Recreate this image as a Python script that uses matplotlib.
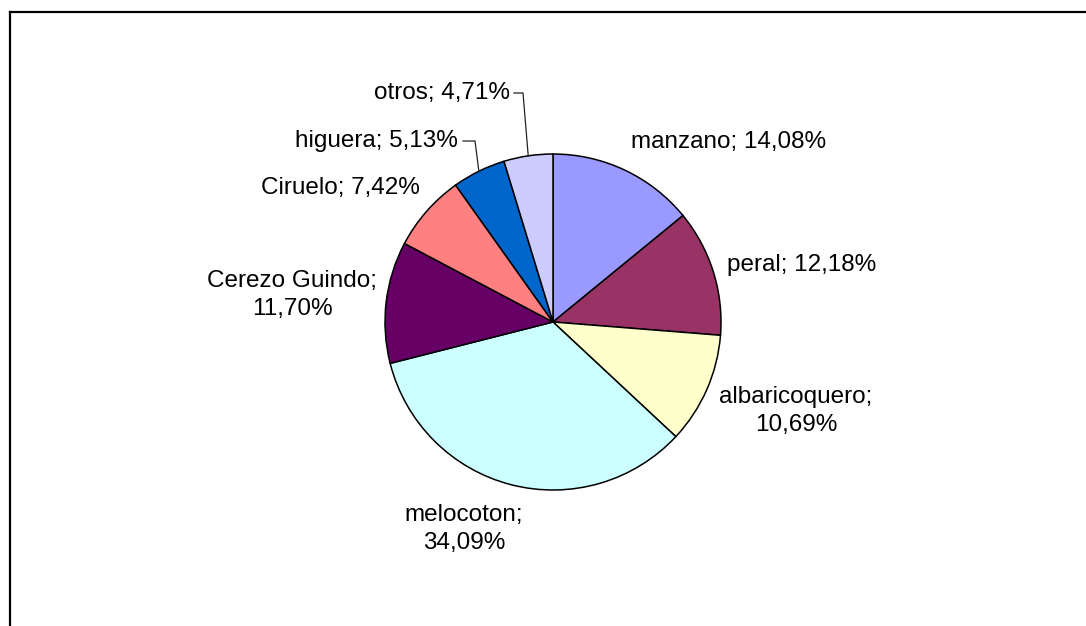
import numpy as np
import matplotlib
matplotlib.use('Agg')
from matplotlib import pyplot as plt

# Data
categories = ['manzano', 'peral', 'albaricoquero', 'melocoton',
              'Cerezo Guindo', 'Ciruelo', 'higuera', 'otros']
values = [14.08, 12.18, 10.69, 34.09, 11.70, 7.42, 5.13, 4.71]
colors = ['#9999FF', '#993366', '#FFFFCC', '#CCFFFF',
          '#660066', '#FF8080', '#0066CC', '#CCCCFF']
# label text breaks onto 2 lines for some slices
two_lines = [False, False, True, True, True, False, False, False]

# Layout (pixel coords, y measured from top)
W, H = 1086, 626
cx, cy, r = 553, 322, 168
label_pos = [(729, 142, 'center'), (802, 265, 'center'), (796, 411, 'center'),
             (464, 529, 'center'), (292, 295, 'center'), (340, 188, 'center'),
             (458, 141, 'right'), (510, 93, 'right')]
leaders = {6: (463, 475), 7: (514, 523)}  # horizontal start/end of leader line

plt.rcParams['font.family'] = ['Liberation Sans', 'DejaVu Sans']

fig = plt.figure(figsize=(W / 100, H / 100), dpi=100)
ax = fig.add_axes([0, 0, 1, 1])

wedges, _ = ax.pie(values, colors=colors, startangle=90, counterclock=False,
                   center=(cx, H - cy), radius=r,
                   wedgeprops=dict(edgecolor='black', linewidth=1.1))
ax.set_xlim(0, W)
ax.set_ylim(0, H)
ax.set_aspect('equal')
ax.axis('off')

for i, (cat, val) in enumerate(zip(categories, values)):
    txt = '{}; {:.2f}%'.format(cat, val).replace('.', ',')
    if two_lines[i]:
        txt = txt.replace('; ', ';\n')
    x, y, ha = label_pos[i]
    ax.text(x, H - y, txt, ha=ha, va='center', fontsize=17.5,
            linespacing=1.3, color='black')

# leader lines for the small slices
for i, (x0, x1) in leaders.items():
    w = wedges[i]
    mid = np.deg2rad((w.theta1 + w.theta2) / 2)
    px = cx + r * np.cos(mid)
    py = (H - cy) + r * np.sin(mid)
    y = H - label_pos[i][1]
    ax.plot([x0, x1, px], [y, y, py], color='#222222', linewidth=0.9)

# chart border (top and left edges visible)
ax.plot([10, W], [H - 12, H - 12], color='black', linewidth=1.6, clip_on=False)
ax.plot([10, 10], [H - 12, 0], color='black', linewidth=1.6, clip_on=False)

fig.savefig('out.png', dpi=100)
